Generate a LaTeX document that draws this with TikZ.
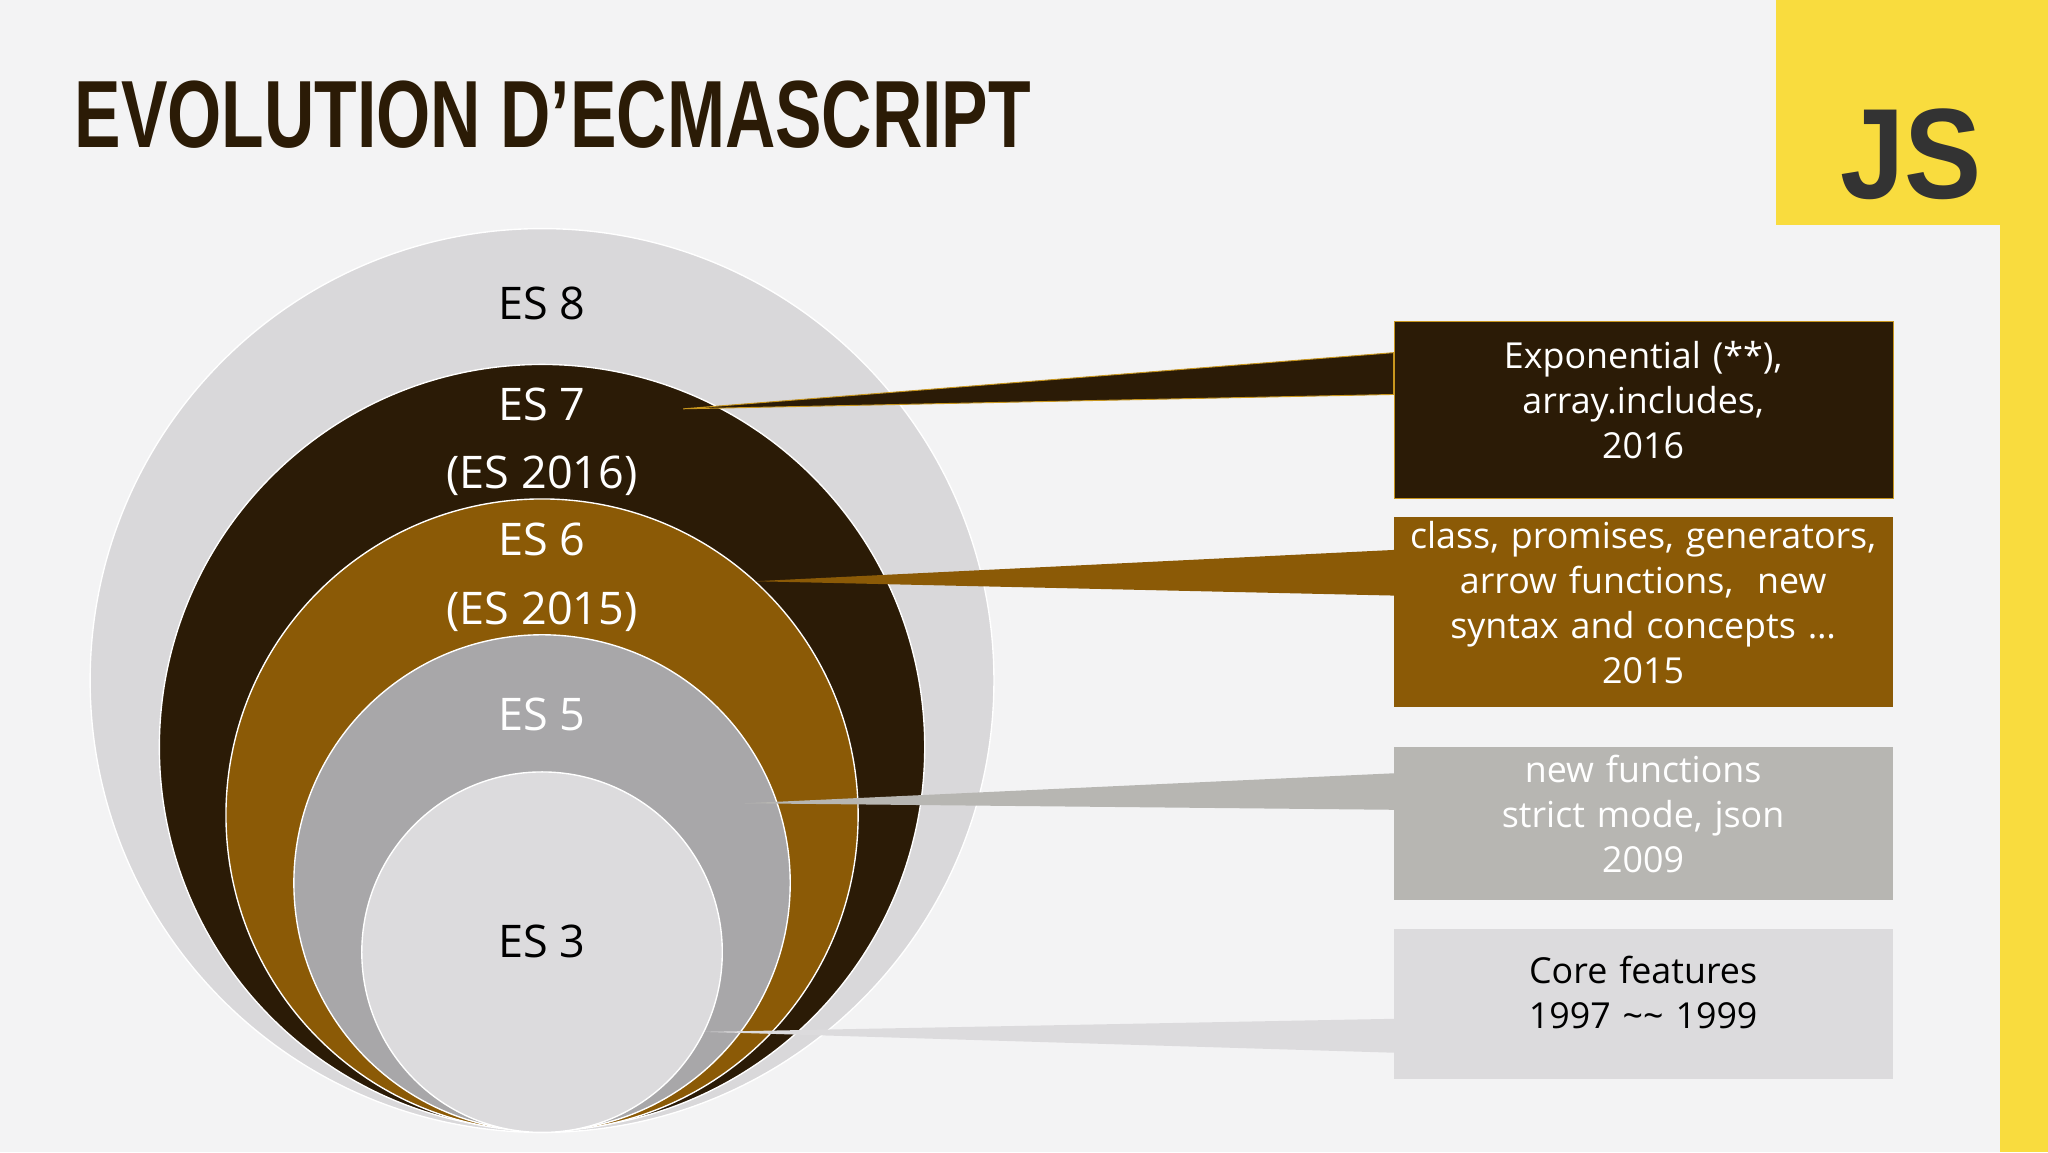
\documentclass[tikz,border=0pt]{standalone}
\usepackage{fontspec}
\setmainfont{Open Sans}
\newfontfamily\titlefont{Liberation Sans}
\definecolor{bg}{HTML}{F3F3F4}
\definecolor{dk}{HTML}{2B1B06}
\definecolor{br}{HTML}{8B5A06}
\definecolor{gold}{HTML}{C8961E}
\definecolor{gA}{HTML}{D9D8DA}
\definecolor{gB}{HTML}{A8A7A9}
\definecolor{gC}{HTML}{DCDBDD}
\definecolor{gD}{HTML}{B7B6B2}
\definecolor{yel}{HTML}{F9DC3E}
\tikzset{
 circ/.style={draw=white,line width=1.5pt},
 lab/.style={font=\fontsize{49}{55}\selectfont},
 boxt/.style={font=\fontsize{39}{49}\selectfont,align=center,text width=400*0.05cm},
}
\begin{document}
\begin{tikzpicture}[x=0.05cm,y=-0.05cm]
\fill[bg] (0,0) rectangle (1568,882);
\useasboundingbox (0,0) rectangle (1568,882);
\fill[yel] (1360,0) rectangle (1568,172);
\fill[yel] (1531,0) rectangle (1568,882);
\node[font=\titlefont\bfseries\fontsize{140}{140}\selectfont,text=black!80] (js) at (1463,118) {\scalebox{0.9}[1]{JS}};
\node[anchor=west,text=dk,font=\titlefont\bfseries\fontsize{104}{104}\selectfont,inner sep=0] (title) at (57,88) {\scalebox{0.73}[1]{EVOLUTION D’ECMASCRIPT}};
% circles
\fill[gA,circ] (415,521) circle (346);
\fill[dk,circ] (415,572) circle (293);
\fill[br,circ] (415,624) circle (242);
\fill[gB,circ] (415,676) circle (190);
\fill[gC,circ] (415,729) circle (138);
\node[lab] (e8) at (415,232) {ES 8};
\node[lab,text=white] (e7) at (415,310) {ES 7};
\node[lab,text=white] (e7b) at (415,364) {(ES 2016)};
\node[lab,text=white] (e6) at (415,413) {ES 6};
\node[lab,text=white] (e6b) at (415,468) {(ES 2015)};
\node[lab,text=white] (e5) at (415,547) {ES 5};
\node[lab] (e3) at (415,721) {ES 3};
% boxes
\node[draw=gold,line width=1.2pt,fill=dk,minimum width=382*0.05cm,minimum height=135*0.05cm,anchor=north west,inner sep=0] (b1) at (1067,246) {};
\node[fill=br,minimum width=382*0.05cm,minimum height=145*0.05cm,anchor=north west,inner sep=0] (b2) at (1067,396) {};
\node[fill=gD,minimum width=382*0.05cm,minimum height=117*0.05cm,anchor=north west,inner sep=0] (b3) at (1067,572) {};
\node[fill=gC,minimum width=382*0.05cm,minimum height=115*0.05cm,anchor=north west,inner sep=0] (b4) at (1067,711) {};
% wedges
\coordinate (t1) at (523,313); \coordinate (t2) at (578,445);
\coordinate (t3) at (570,615); \coordinate (t4) at (540,790);
\fill[dk,draw=gold,line width=1pt] (t1) -- (1067,270) -- (1067,302) -- cycle;
\fill[br] (t2) -- (1068,421) -- (1068,456) -- cycle;
\fill[gD] (t3) -- (1068,592) -- (1068,620) -- cycle;
\fill[gC] (t4) -- (1068,780) -- (1068,806) -- cycle;
\node[boxt,text=white] at (1258,306) {Exponential (**),\\array.includes,\\2016};
\node[boxt,text=white] at (1258,461) {class, promises, generators,\\arrow functions,\ \ new\\syntax and concepts …\\2015};
\node[boxt,text=white] at (1258,623) {new functions\\strict mode, json\\2009};
\node[boxt,text=black] at (1258,760) {Core features\\1997 \textasciitilde\textasciitilde\ 1999};
\end{tikzpicture}
\end{document}
